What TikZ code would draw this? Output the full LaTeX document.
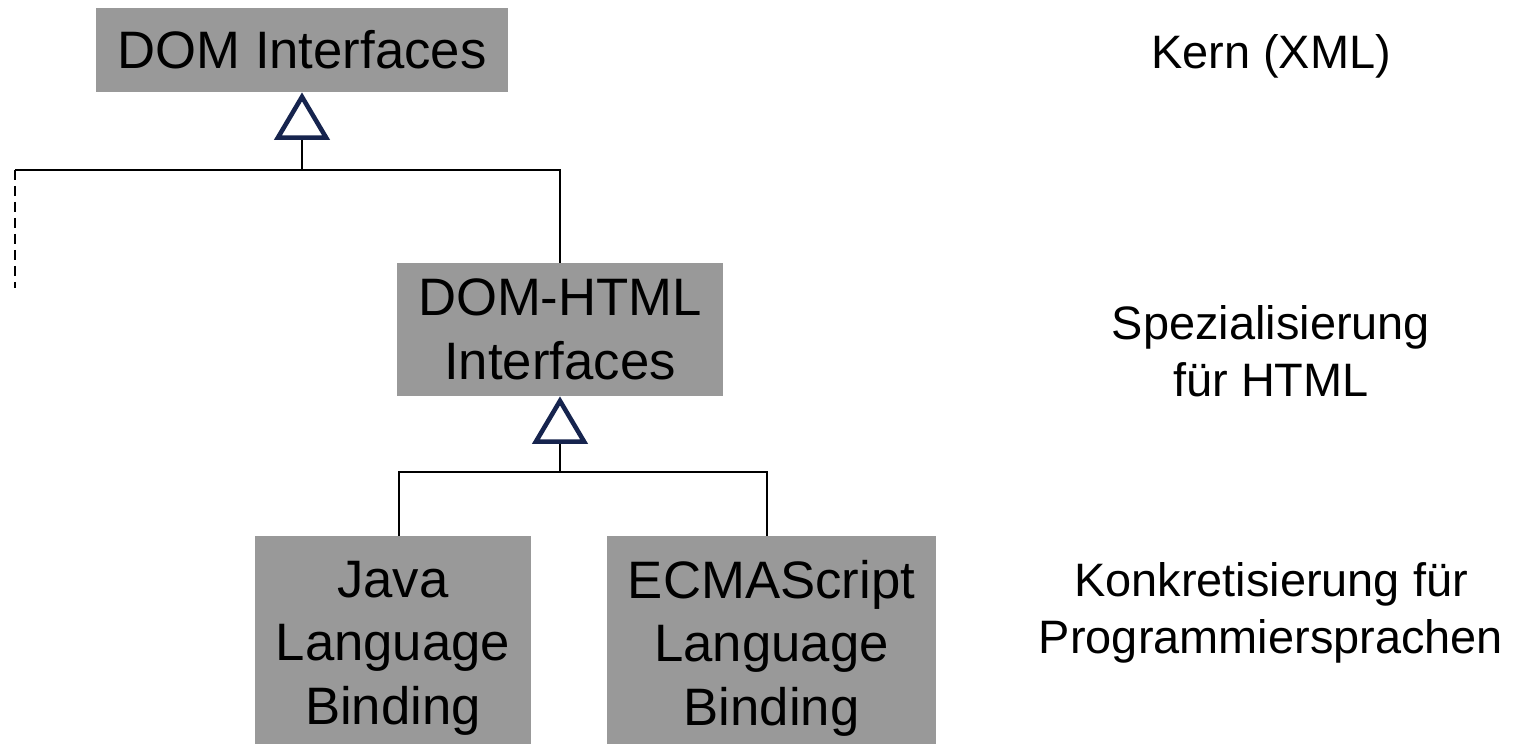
\documentclass[tikz,border=0pt]{standalone}
\usepackage{fontspec}
\setmainfont{Liberation Sans}
\usepackage{tikz}
\usetikzlibrary{arrows.meta, positioning}
\definecolor{boxgray}{RGB}{153,153,153}
\definecolor{tipnavy}{RGB}{22,36,78}

\begin{document}
\begin{tikzpicture}[x=0.02cm, y=-0.02cm,
  iface/.style={fill=boxgray, align=center, inner sep=0pt,
    font=\fontsize{30}{36.1}\selectfont},
  level/.style={align=center, font=\fontsize{26.7}{32.4}\selectfont},
  tie/.style={line width=1.1pt},
  gen/.style={line width=1.1pt,
    -{Triangle[open, fill=white, color=tipnavy, line width=2.6pt, length=0.95cm, width=1.1cm]}}]
  \clip (0,0) rectangle (1522,744);

  % Interfaces
  \node[iface, minimum width=8.24cm, minimum height=1.68cm] (dom) at (302,50) {DOM Interfaces};
  \node[iface, minimum width=6.52cm, minimum height=2.66cm] (html) at (560,329.5) {DOM-HTML\\Interfaces};
  \node[iface, minimum width=5.52cm, minimum height=4.48cm] (java) at (393,648) {Java\\Language\\Binding};
  \node[iface, minimum width=6.58cm, minimum height=4.48cm] (ecma) at (771.5,648) {ECMAScript\\Language\\Binding};

  % Levels
  \node[level] (core) at (1271,56) {Kern (XML)};
  \node[level] (spec) at (1271,351) {Spezialisierung\\für HTML};
  \node[level] (conc) at (1271,613) {Konkretisierung für\\Programmiersprachen};

  % Tree below DOM Interfaces
  \coordinate (fork1) at (302,170);
  \coordinate (left1) at (15,170);
  \coordinate (leftend) at (15,288);
  \coordinate (right1) at (560,170);
  \draw[gen] (fork1) -- (dom.south);
  \draw[tie] (left1) -- (right1) -- (right1 |- html.north);
  \draw[tie, dash pattern=on 5.7pt off 3.4pt] (left1) -- (leftend);

  % Tree below DOM-HTML Interfaces
  \coordinate (fork2) at (560,472);
  \coordinate (bl) at (399,472);
  \coordinate (br) at (767,472);
  \draw[gen] (fork2) -- (html.south);
  \draw[tie] (bl |- java.north) -- (bl) -- (br) -- (br |- ecma.north);
\end{tikzpicture}
\end{document}
